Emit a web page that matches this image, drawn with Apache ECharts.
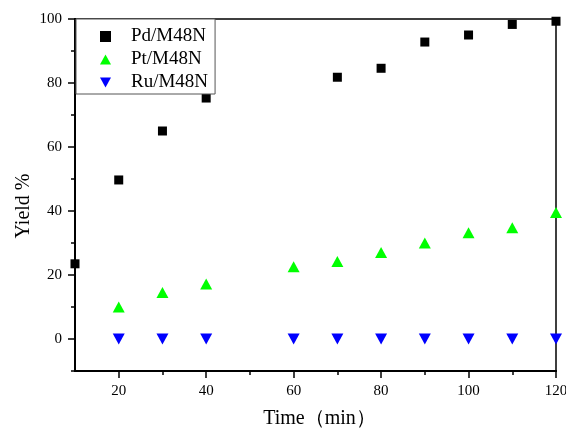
<!DOCTYPE html>
<html><head><meta charset="utf-8">
<script src="https://cdn.jsdelivr.net/npm/echarts@6/dist/echarts.min.js"></script>
<style>html,body{margin:0;padding:0;background:#fff}#c{width:566px;height:428px}</style>
</head><body><div id="c"></div>
<script>
const seriesNames = ['Pd/M48N', 'Pt/M48N', 'Ru/M48N'];
const pdTime = [10, 20, 30, 40, 70, 80, 90, 100, 110, 120];
const pdYield = [23.5, 49.7, 65.0, 75.3, 81.8, 84.6, 92.8, 95.0, 98.3, 99.3];
const ptTime = [20, 30, 40, 60, 70, 80, 90, 100, 110, 120];
const ptYield = [10.0, 14.5, 17.2, 22.6, 24.2, 27.0, 30.0, 33.2, 34.8, 39.5];
const ruTime = [20, 30, 40, 60, 70, 80, 90, 100, 110, 120];
const ruYield = [0, 0, 0, 0, 0, 0, 0, 0, 0, 0];
const xMajor = [20, 40, 60, 80, 100, 120];
const xMinor = [30, 50, 70, 90, 110];
const yMajor = [0, 20, 40, 60, 80, 100];
const yMinor = [-10, 10, 30, 50, 70, 90];
const xTitle = 'Time（min）';
const yTitle = 'Yield %';

const font = '"Liberation Serif", "Times New Roman", serif';
const pair = (xs, ys) => xs.map((x, i) => [x, ys[i]]);
const downTri = 'path://M0,0 L10,0 L5,9 Z';
const upTri = 'path://M5,0 L10,9 L0,9 Z';

function xAx(ticks, labels, len, extra) {
  return Object.assign({
    type: 'value', min: 10, max: 120, interval: 10, position: 'bottom',
    axisLine: {show: true, onZero: false, lineStyle: {color: '#000', width: 2}},
    axisTick: {show: true, inside: false, length: len, customValues: ticks, lineStyle: {color: '#000', width: 1.5}},
    axisLabel: labels ? {show: true, customValues: labels, fontFamily: font, fontSize: 15, color: '#000', margin: 13} : {show: false},
    splitLine: {show: false}
  }, extra || {});
}
function yAx(ticks, labels, len, extra) {
  return Object.assign({
    type: 'value', min: -10, max: 100, interval: 10, position: 'left',
    axisLine: {show: true, onZero: false, lineStyle: {color: '#000', width: 2}},
    axisTick: {show: true, inside: false, length: len, customValues: ticks, lineStyle: {color: '#000', width: 1.5}},
    axisLabel: labels ? {show: true, customValues: labels, fontFamily: font, fontSize: 15, color: '#000', margin: 13} : {show: false},
    splitLine: {show: false}
  }, extra || {});
}

const chart = echarts.init(document.getElementById('c'), null, {renderer: 'canvas'});
chart.setOption({
  animation: false,
  backgroundColor: '#fff',
  grid: {left: 75, right: 10, top: 19, bottom: 57, outerBoundsMode: 'none', containLabel: false,
    show: true, borderColor: '#000', borderWidth: 1.5, backgroundColor: 'transparent'},
  legend: {
    left: 76, top: 19, orient: 'vertical', itemGap: 4, padding: [8, 7, 2, 24],
    backgroundColor: '#fff', borderColor: '#555', borderWidth: 1,
    itemWidth: 11, itemHeight: 11,
    textStyle: {fontFamily: font, fontSize: 19, color: '#000', padding: [0, 0, 0, 15]},
    data: [
      {name: seriesNames[0], icon: 'rect'},
      {name: seriesNames[1], icon: upTri},
      {name: seriesNames[2], icon: downTri}
    ]
  },
  xAxis: [
    xAx(xMajor, xMajor, 7, {name: xTitle, nameLocation: 'middle', nameGap: 38,
      nameTextStyle: {fontFamily: font, fontSize: 20, color: '#000', padding: [0, 0, 0, 8]}}),
    xAx(xMinor, null, 4)
  ],
  yAxis: [
    yAx(yMajor, yMajor, 7, {name: yTitle, nameLocation: 'middle', nameGap: 41, nameMoveOverlap: false,
      nameTextStyle: {fontFamily: font, fontSize: 20, color: '#000', padding: [0, 22, 0, 0]}}),
    yAx(yMinor, null, 4)
  ],
  series: [
    {name: seriesNames[0], type: 'scatter', symbol: 'rect', symbolSize: 9, clip: true,
      itemStyle: {color: '#000', opacity: 1}, data: pair(pdTime, pdYield)},
    {name: seriesNames[1], type: 'scatter', symbol: upTri, symbolSize: [12, 11], clip: true,
      itemStyle: {color: '#00ff00', opacity: 1}, data: pair(ptTime, ptYield)},
    {name: seriesNames[2], type: 'scatter', symbol: downTri, symbolSize: [12, 11], clip: true,
      itemStyle: {color: '#0000ff', opacity: 1}, data: pair(ruTime, ruYield)}
  ]
});
</script></body></html>
